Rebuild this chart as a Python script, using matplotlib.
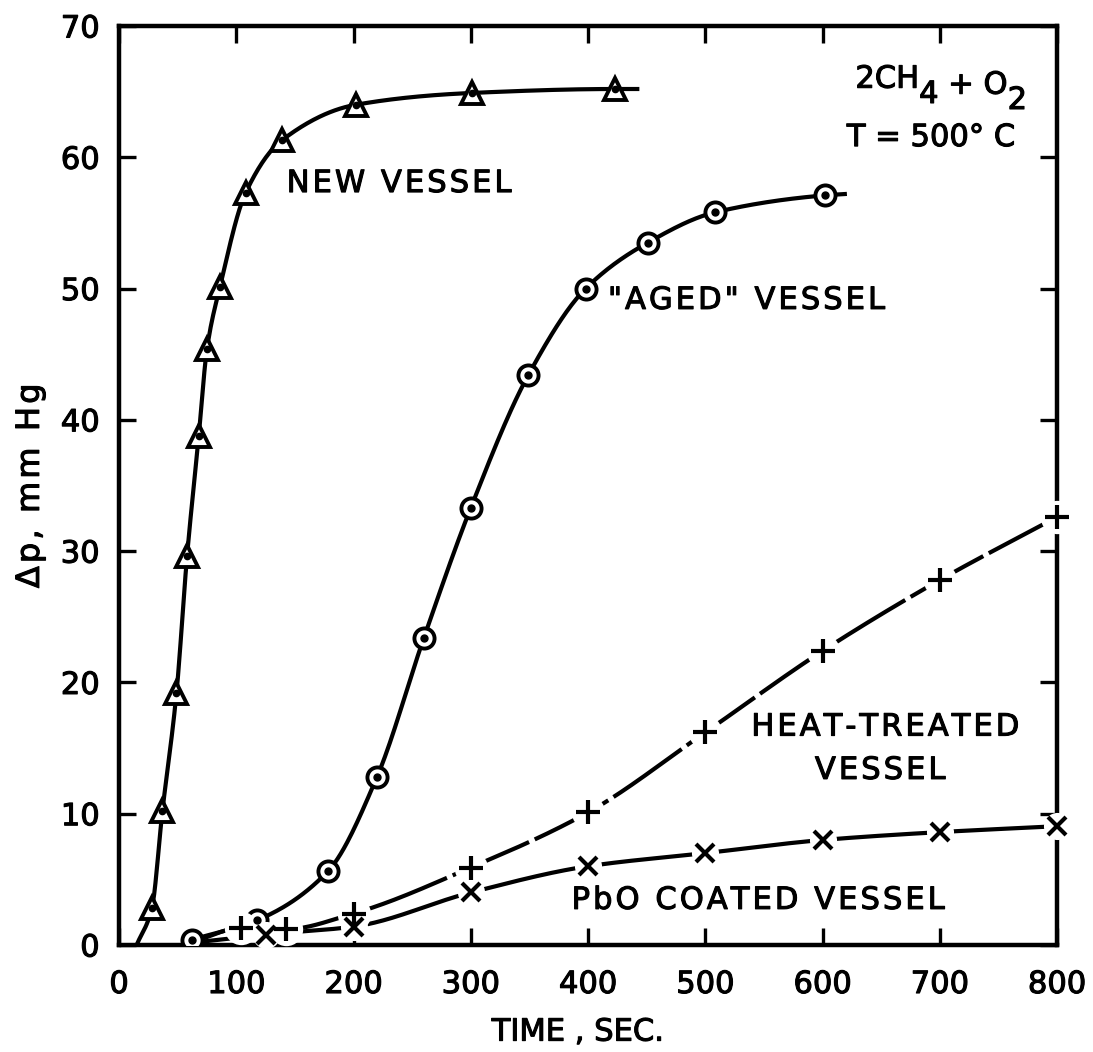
import numpy as np
import matplotlib
matplotlib.use("Agg")
from matplotlib import pyplot as plt
from matplotlib import patheffects as pe

# pressure rise vs time, 2CH4 + O2 at 500 C, four vessel surfaces
NEW_T = [28, 37, 49, 58, 68, 75, 86, 108, 139, 202, 301, 423]
NEW_DP = [2.8, 10.2, 19.2, 29.6, 38.8, 45.4, 50.1, 57.3, 61.3, 64.0, 64.9, 65.2]
NEW_START = (15, 0.0)      # where the drawn curve leaves the axis
NEW_END = (442, 65.2)      # where the drawn curve stops

AGED_T = [62, 118, 178, 220, 260, 300, 349, 398, 451, 508, 602]
AGED_DP = [0.4, 1.9, 5.6, 12.8, 23.4, 33.3, 43.4, 50.0, 53.5, 55.8, 57.1]
AGED_END = (619, 57.2)

HEAT_T = [104, 142, 200, 300, 400, 500, 600, 700, 800]
HEAT_DP = [1.3, 1.2, 2.4, 5.9, 10.1, 16.2, 22.4, 27.8, 32.6]
HEAT_START = (65, 0.3)

PBO_T = [125, 200, 300, 400, 500, 600, 700, 800]
PBO_DP = [0.8, 1.4, 4.0, 6.0, 7.0, 8.0, 8.6, 9.05]
PBO_START = (65, 0.2)


def smooth(x, y, n=400):
    """Monotone cubic (PCHIP style) path through the given points."""
    x = np.asarray(x, float)
    y = np.asarray(y, float)
    h = np.diff(x)
    d = np.diff(y) / h
    m = np.zeros_like(y)
    for k in range(1, len(x) - 1):
        if d[k - 1] * d[k] > 0:
            w1 = 2 * h[k] + h[k - 1]
            w2 = h[k] + 2 * h[k - 1]
            m[k] = (w1 + w2) / (w1 / d[k - 1] + w2 / d[k])
    m[0] = d[0]
    m[-1] = d[-1]
    xs = np.linspace(x[0], x[-1], n)
    i = np.clip(np.searchsorted(x, xs) - 1, 0, len(h) - 1)
    t = (xs - x[i]) / h[i]
    h00 = 2 * t**3 - 3 * t**2 + 1
    h10 = t**3 - 2 * t**2 + t
    h01 = -2 * t**3 + 3 * t**2
    h11 = t**3 - t**2
    ys = h00 * y[i] + h10 * h[i] * m[i] + h01 * y[i + 1] + h11 * h[i] * m[i + 1]
    return xs, ys


def spaced(s):
    # open up the lettering a little with hair spaces
    return "\u200a".join(s)


plt.rcParams["font.family"] = ["DejaVu Sans"]

INK = "black"
HEAVY = [pe.withStroke(linewidth=0.8, foreground=INK)]
LW = 3.0

fig = plt.figure(figsize=(10.93, 10.52), dpi=100)
ax = fig.add_axes([0.1089, 0.1017, 0.8582, 0.8736])

# curves
xs, ys = smooth([NEW_START[0]] + NEW_T + [NEW_END[0]], [NEW_START[1]] + NEW_DP + [NEW_END[1]])
ax.plot(xs, ys, color=INK, lw=LW, zorder=2)
xs, ys = smooth(AGED_T + [AGED_END[0]], AGED_DP + [AGED_END[1]])
ax.plot(xs, ys, color=INK, lw=LW, zorder=2)
xs, ys = smooth([HEAT_START[0]] + HEAT_T, [HEAT_START[1]] + HEAT_DP)
ax.plot(xs, ys, color=INK, lw=LW, zorder=2, dashes=(20, 1.5), clip_on=False)
xs, ys = smooth([PBO_START[0]] + PBO_T, [PBO_START[1]] + PBO_DP)
ax.plot(xs, ys, color=INK, lw=LW, zorder=2, clip_on=False)

# open triangles and circles with a centre dot
ax.plot(NEW_T, NEW_DP, ls="none", marker="^", ms=15.5, mfc="white", mec=INK, mew=2.8, zorder=4)
ax.plot(NEW_T, NEW_DP, ls="none", marker="o", ms=4.5, mfc=INK, mec=INK, zorder=5)
ax.plot(AGED_T, AGED_DP, ls="none", marker="o", ms=14.5, mfc="white", mec=INK, mew=2.8, zorder=4)
ax.plot(AGED_T, AGED_DP, ls="none", marker="o", ms=5, mfc=INK, mec=INK, zorder=5)

# + and x symbols sit in a small white gap that breaks the lines and frame
for t, dp, mk, size in [(HEAT_T, HEAT_DP, "+", 17), (PBO_T, PBO_DP, "x", 12.5)]:
    ax.plot(t, dp, ls="none", marker="o", ms=size + 7, mfc="white", mec="none",
            zorder=4, clip_on=False)
    ax.plot(t, dp, ls="none", marker=mk, ms=size, mec=INK, mew=3.0,
            zorder=5, clip_on=False)

ax.set_xlim(0, 800)
ax.set_ylim(0, 70)
ax.set_xticks(np.arange(0, 801, 100))
ax.set_yticks(np.arange(0, 71, 10))

for s in ax.spines.values():
    s.set_linewidth(3.2)
    s.set_zorder(3)

ax.tick_params(axis="both", which="major", direction="in", length=12, width=2.4,
               top=True, right=True, labelsize=22)
ax.tick_params(axis="x", pad=18)
ax.tick_params(axis="y", pad=14)
for lab in ax.get_xticklabels() + ax.get_yticklabels():
    lab.set_path_effects(HEAVY)

ax.set_xlabel("TIME , SEC.", fontsize=22, path_effects=HEAVY)
ax.xaxis.set_label_coords(0.489, -0.079)
ax.set_ylabel(spaced("Δp, mm Hg"), fontsize=23, path_effects=HEAVY)
ax.yaxis.set_label_coords(-0.078, 0.5)

# curve labels
lab_kw = dict(fontsize=22, va="center", path_effects=HEAVY)
ax.text(143, 58.0, spaced("NEW VESSEL"), ha="left", **lab_kw)
ax.text(417, 49.1, spaced('"AGED" VESSEL'), ha="left", **lab_kw)
ax.text(653, 16.6, spaced("HEAT-TREATED"), ha="center", **lab_kw)
ax.text(649, 13.3, spaced("VESSEL"), ha="center", **lab_kw)
ax.text(386, 3.4, spaced("PbO COATED VESSEL"), ha="left", **lab_kw)

# reaction conditions, subscripts set at full size and dropped
mix_kw = dict(fontsize=22, path_effects=HEAVY, va="baseline", ha="left")
t1 = ax.text(628, 65.3, "2CH", **mix_kw)
t2 = ax.annotate("4", xy=(1.0, -0.32), xycoords=t1, **mix_kw)
t3 = ax.annotate(" + O", xy=(1.0, 0.0), xycoords=(t2, t1), **mix_kw)
ax.annotate("2", xy=(1.0, -0.32), xycoords=t3, **mix_kw)
ax.text(764, 61.5, "T = 500° C", fontsize=22, ha="right", va="center",
        path_effects=HEAVY)

fig.savefig("out.png", dpi=100)
